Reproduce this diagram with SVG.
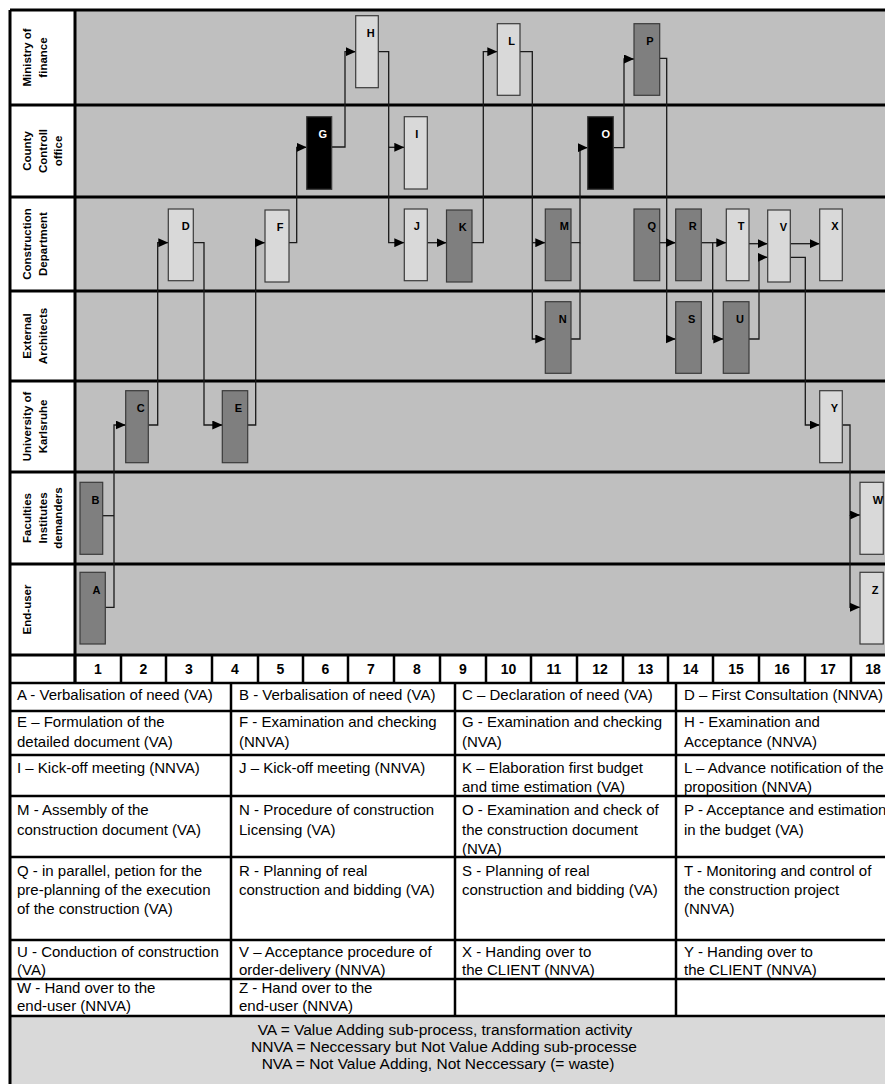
<svg xmlns="http://www.w3.org/2000/svg" width="885" height="1084" viewBox="0 0 885 1084">
<style>
.lane{font-family:"Liberation Sans",Arial,sans-serif;font-weight:bold;font-size:11.5px;fill:#000;text-anchor:middle}
.num{font-family:"Liberation Sans",Arial,sans-serif;font-weight:bold;font-size:14px;fill:#000;text-anchor:middle}
.cell{font-family:"Liberation Sans",Arial,sans-serif;font-size:15px;fill:#000}
.leg{font-family:"Liberation Sans",Arial,sans-serif;font-size:15.5px;fill:#000;text-anchor:middle}
.lbl{font-family:"Liberation Sans",Arial,sans-serif;font-weight:bold;font-size:11px;fill:#000;text-anchor:middle}
.lblw{font-family:"Liberation Sans",Arial,sans-serif;font-weight:bold;font-size:11px;fill:#fff;text-anchor:middle}
.bl{fill:#d9d9d9;stroke:#3a3a3a;stroke-width:1.2}
.bd{fill:#7f7f7f;stroke:#3a3a3a;stroke-width:1.2}
.bk{fill:#000;stroke:#3a3a3a;stroke-width:1.2}
.thick{stroke:#000;stroke-width:3;fill:none}
.tl{stroke:#000;stroke-width:2.5;fill:none}
.con{stroke:#1a1a1a;stroke-width:1.3;fill:none}
.arr{marker-end:url(#ah)}
</style>
<defs>
<marker id="ah" markerUnits="userSpaceOnUse" markerWidth="10" markerHeight="9" refX="10" refY="4.5" orient="auto">
<path d="M0,0 L10,4.5 L0,9 z" fill="#000"/>
</marker>
</defs>
<rect x="0" y="0" width="885" height="1084" fill="#fff"/>
<g id="lanes">
<rect x="75" y="10" width="820" height="645" fill="#bfbfbf"/>
<rect x="10" y="1016" width="880" height="80" fill="#d9d9d9"/>
<path class="thick" d="M10,10 H890 M10,105 H890 M10,197 H890 M10,291 H890 M10,381 H890 M10,472 H890 M10,564 H890 M10,655 H890 M10,10 V1090 M75,10 V683"/>
<g id="lane-labels">
<text class="lane" transform="translate(31,57.5) rotate(-90)">Ministry of</text>
<text class="lane" transform="translate(46.5,57.5) rotate(-90)">finance</text>
<text class="lane" transform="translate(31,151) rotate(-90)">County</text>
<text class="lane" transform="translate(46.5,151) rotate(-90)">Controll</text>
<text class="lane" transform="translate(62,151) rotate(-90)">office</text>
<text class="lane" transform="translate(31,244) rotate(-90)">Construction</text>
<text class="lane" transform="translate(46.5,244) rotate(-90)">Department</text>
<text class="lane" transform="translate(31,336) rotate(-90)">External</text>
<text class="lane" transform="translate(46.5,336) rotate(-90)">Architects</text>
<text class="lane" transform="translate(31,426.5) rotate(-90)">University of</text>
<text class="lane" transform="translate(46.5,426.5) rotate(-90)">Karlsruhe</text>
<text class="lane" transform="translate(31,518) rotate(-90)">Faculties</text>
<text class="lane" transform="translate(46.5,518) rotate(-90)">Institutes</text>
<text class="lane" transform="translate(62,518) rotate(-90)">demanders</text>
<text class="lane" transform="translate(31,609.5) rotate(-90)">End-user</text>
</g>
</g>
<g id="numbers">
<path class="tl" d="M10,683 H890 M75,655 V683 M121,655 V683 M166,655 V683 M212,655 V683 M258,655 V683 M303,655 V683 M348,655 V683 M394,655 V683 M440,655 V683 M486,655 V683 M531,655 V683 M577,655 V683 M623,655 V683 M668,655 V683 M713,655 V683 M759,655 V683 M805,655 V683 M851,655 V683"/>
<text class="num" x="98" y="674">1</text>
<text class="num" x="143.5" y="674">2</text>
<text class="num" x="189" y="674">3</text>
<text class="num" x="235" y="674">4</text>
<text class="num" x="280.5" y="674">5</text>
<text class="num" x="325.5" y="674">6</text>
<text class="num" x="371" y="674">7</text>
<text class="num" x="417" y="674">8</text>
<text class="num" x="463" y="674">9</text>
<text class="num" x="508.5" y="674">10</text>
<text class="num" x="554" y="674">11</text>
<text class="num" x="600" y="674">12</text>
<text class="num" x="645.5" y="674">13</text>
<text class="num" x="690.5" y="674">14</text>
<text class="num" x="736" y="674">15</text>
<text class="num" x="782" y="674">16</text>
<text class="num" x="828" y="674">17</text>
<text class="num" x="873" y="674">18</text>
</g>
<g id="connectors">
<path class="con arr" d="M105.3,607.3 H114 V425 H125.7"/>
<path class="con" d="M102.7,515.7 H114"/>
<path class="con arr" d="M148.3,425 H157.7 V242.7 H168.3"/>
<path class="con arr" d="M193.3,242.7 H204 V425 H222.3"/>
<path class="con arr" d="M247.7,425 H255.7 V242.7 H265"/>
<path class="con arr" d="M289,242.7 H296.7 V147.3 H306.7"/>
<path class="con arr" d="M331.7,147 H345 V51.7 H355.7"/>
<path class="con arr" d="M378.3,51.7 H388.7 V242.7 H404.3"/>
<path class="con arr" d="M388.7,147.3 H404.3"/>
<path class="con arr" d="M427.3,242.7 H446.5"/>
<path class="con arr" d="M472,242.7 H483.3 V51.7 H497.3"/>
<path class="con arr" d="M520,51.7 H532.3 V339 H545.3"/>
<path class="con arr" d="M532.3,242.7 H545.3"/>
<path class="con arr" d="M571,242.7 H580 V147.7 H587.7"/>
<path class="con" d="M571,339 H580 V242.7"/>
<path class="con arr" d="M613.3,147.7 H624 V59 H634"/>
<path class="con arr" d="M659.7,58.3 H666.7 V339 H675.7"/>
<path class="con arr" d="M659.7,242.7 H675.7"/>
<path class="con arr" d="M701.3,242.7 H726.3"/>
<path class="con arr" d="M712.7,242.7 V339 H723.3"/>
<path class="con arr" d="M749,243.7 H767.7"/>
<path class="con arr" d="M749,339 H759 V257.3 H767.7"/>
<path class="con arr" d="M790.3,243.7 H819.7"/>
<path class="con arr" d="M790.3,257.3 H805.3 V425 H819.7"/>
<path class="con arr" d="M842.3,425 H850 V515 H860"/>
<path class="con arr" d="M850,515 V607.3 H860"/>
</g>
<g id="node-A"><rect class="bd" x="80" y="572.3" width="25.3" height="71.7"/><text class="lbl" x="96.5" y="593.5">A</text></g>
<g id="node-B"><rect class="bd" x="80" y="482.3" width="22.7" height="72"/><text class="lbl" x="95.5" y="503.5">B</text></g>
<g id="node-C"><rect class="bd" x="125.7" y="390.7" width="22.6" height="72"/><text class="lbl" x="140.7" y="411.7">C</text></g>
<g id="node-D"><rect class="bl" x="168.3" y="209" width="25" height="71.7"/><text class="lbl" x="185.7" y="230">D</text></g>
<g id="node-E"><rect class="bd" x="222.3" y="390.7" width="25.4" height="72"/><text class="lbl" x="238.3" y="411.7">E</text></g>
<g id="node-F"><rect class="bl" x="265" y="210" width="24" height="72"/><text class="lbl" x="280" y="231">F</text></g>
<g id="node-G"><rect class="bk" x="306.7" y="116.7" width="25" height="72.6"/><text class="lblw" x="322.7" y="137.7">G</text></g>
<g id="node-H"><rect class="bl" x="355.7" y="15.7" width="22.6" height="72"/><text class="lbl" x="370.7" y="36.7">H</text></g>
<g id="node-I"><rect class="bl" x="404.3" y="116.7" width="23" height="72.3"/><text class="lbl" x="416.7" y="137.7">I</text></g>
<g id="node-J"><rect class="bl" x="404.3" y="209" width="23" height="71.7"/><text class="lbl" x="416.7" y="230">J</text></g>
<g id="node-K"><rect class="bd" x="446.5" y="210" width="25.5" height="72"/><text class="lbl" x="462.7" y="231">K</text></g>
<g id="node-L"><rect class="bl" x="497.3" y="23.7" width="22.7" height="71.6"/><text class="lbl" x="511.7" y="44.7">L</text></g>
<g id="node-M"><rect class="bd" x="545.3" y="209" width="25.7" height="71.7"/><text class="lbl" x="564.3" y="230">M</text></g>
<g id="node-N"><rect class="bd" x="545.3" y="301.7" width="25.7" height="71.6"/><text class="lbl" x="562.7" y="322.7">N</text></g>
<g id="node-O"><rect class="bk" x="587.7" y="116.7" width="25.6" height="72.6"/><text class="lblw" x="605.7" y="137.7">O</text></g>
<g id="node-P"><rect class="bd" x="634" y="23.7" width="25.7" height="71.6"/><text class="lbl" x="650" y="44.7">P</text></g>
<g id="node-Q"><rect class="bd" x="634" y="209" width="25.7" height="71.7"/><text class="lbl" x="651.7" y="230">Q</text></g>
<g id="node-R"><rect class="bd" x="675.7" y="209" width="25.6" height="71.7"/><text class="lbl" x="692.7" y="230">R</text></g>
<g id="node-S"><rect class="bd" x="675.7" y="301.7" width="25.6" height="71.6"/><text class="lbl" x="691.7" y="322.7">S</text></g>
<g id="node-T"><rect class="bl" x="726.3" y="209" width="22.7" height="71.7"/><text class="lbl" x="741" y="230">T</text></g>
<g id="node-U"><rect class="bd" x="723.3" y="301.7" width="25.7" height="71.6"/><text class="lbl" x="740" y="322.7">U</text></g>
<g id="node-V"><rect class="bl" x="767.7" y="210" width="22.6" height="72"/><text class="lbl" x="783.3" y="231">V</text></g>
<g id="node-X"><rect class="bl" x="819.7" y="209" width="22.6" height="71.7"/><text class="lbl" x="835" y="230">X</text></g>
<g id="node-Y"><rect class="bl" x="819.7" y="390.7" width="22.6" height="72"/><text class="lbl" x="834.3" y="411.7">Y</text></g>
<g id="node-W"><rect class="bl" x="860" y="482.3" width="23.3" height="72"/><text class="lbl" x="878" y="503.5">W</text></g>
<g id="node-Z"><rect class="bl" x="860" y="572.3" width="23.3" height="71.7"/><text class="lbl" x="875" y="593.5">Z</text></g>
<g id="table">
<path class="tl" d="M10,711 H890 M10,755 H890 M10,796 H890 M10,857 H890 M10,940 H890 M10,979 H890 M10,1016 H890 M231,683 V1016 M455,683 V1016 M676,683 V1016"/>
<text class="cell" x="17" y="700">A - Verbalisation of need (VA)</text>
<text class="cell" x="239" y="700">B - Verbalisation of need (VA)</text>
<text class="cell" x="462" y="700">C – Declaration of need (VA)</text>
<text class="cell" x="684" y="700">D – First Consultation (NNVA)</text>
<text class="cell" x="17" y="727">E – Formulation of the</text>
<text class="cell" x="17" y="747">detailed document (VA)</text>
<text class="cell" x="239" y="727">F - Examination and checking</text>
<text class="cell" x="239" y="747">(NNVA)</text>
<text class="cell" x="462" y="727">G - Examination and checking</text>
<text class="cell" x="462" y="747">(NVA)</text>
<text class="cell" x="684" y="727">H - Examination and</text>
<text class="cell" x="684" y="747">Acceptance (NNVA)</text>
<text class="cell" x="17" y="773">I – Kick-off meeting (NNVA)</text>
<text class="cell" x="239" y="773">J – Kick-off meeting (NNVA)</text>
<text class="cell" x="462" y="773">K – Elaboration first budget</text>
<text class="cell" x="462" y="792">and time estimation (VA)</text>
<text class="cell" x="684" y="773">L – Advance notification of the</text>
<text class="cell" x="684" y="792">proposition (NNVA)</text>
<text class="cell" x="17" y="815">M - Assembly of the</text>
<text class="cell" x="17" y="835">construction document (VA)</text>
<text class="cell" x="239" y="815">N - Procedure of construction</text>
<text class="cell" x="239" y="835">Licensing (VA)</text>
<text class="cell" x="462" y="815">O - Examination and check of</text>
<text class="cell" x="462" y="835">the construction document</text>
<text class="cell" x="462" y="854">(NVA)</text>
<text class="cell" x="684" y="815">P - Acceptance and estimation</text>
<text class="cell" x="684" y="835">in the budget (VA)</text>
<text class="cell" x="17" y="876">Q - in parallel, petion for the</text>
<text class="cell" x="17" y="895">pre-planning of the execution</text>
<text class="cell" x="17" y="914">of the construction (VA)</text>
<text class="cell" x="239" y="876">R - Planning of real</text>
<text class="cell" x="239" y="895">construction and bidding (VA)</text>
<text class="cell" x="462" y="876">S - Planning of real</text>
<text class="cell" x="462" y="895">construction and bidding (VA)</text>
<text class="cell" x="684" y="876">T - Monitoring and control of</text>
<text class="cell" x="684" y="895">the construction project</text>
<text class="cell" x="684" y="914">(NNVA)</text>
<text class="cell" x="17" y="957">U - Conduction of construction</text>
<text class="cell" x="17" y="975">(VA)</text>
<text class="cell" x="239" y="957">V – Acceptance procedure of</text>
<text class="cell" x="239" y="975">order-delivery (NNVA)</text>
<text class="cell" x="462" y="957">X - Handing over to</text>
<text class="cell" x="462" y="975">the CLIENT (NNVA)</text>
<text class="cell" x="684" y="957">Y - Handing over to</text>
<text class="cell" x="684" y="975">the CLIENT (NNVA)</text>
<text class="cell" x="17" y="993">W - Hand over to the</text>
<text class="cell" x="17" y="1011">end-user (NNVA)</text>
<text class="cell" x="239" y="993">Z - Hand over to the</text>
<text class="cell" x="239" y="1011">end-user (NNVA)</text>
</g>
<g id="legend">
<text class="leg" x="445" y="1035">VA = Value Adding sub-process, transformation activity</text>
<text class="leg" x="444" y="1052">NNVA = Neccessary but Not Value Adding sub-processe</text>
<text class="leg" x="438" y="1069">NVA = Not Value Adding, Not Neccessary (= waste)</text>
</g>
</svg>
